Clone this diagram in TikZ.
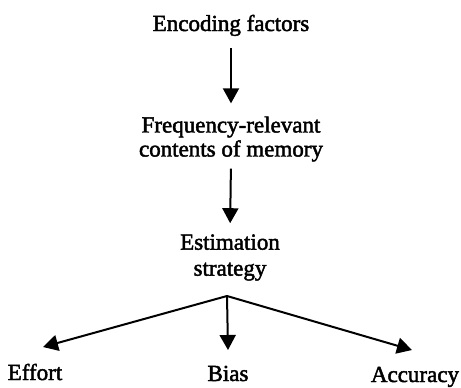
\documentclass[tikz,border=0pt]{standalone}
\usepackage{fontspec}
\setmainfont{Liberation Serif}
\newfontfamily\lblfont[FakeBold=2]{Liberation Serif}
\usetikzlibrary{arrows.meta}
\begin{document}
\begin{tikzpicture}[x=1pt,y=-1pt,
  lbl/.style={font=\lblfont\fontsize{23}{24}\selectfont, align=center, inner sep=0pt},
  conn/.style={line width=2pt, -{Triangle[length=15pt,width=16pt]}}]
\useasboundingbox (0,0) rectangle (461,388);
\node[lbl, anchor=base] (enc) at (231,31) {Encoding factors};
\node[lbl] (freq) at (231,139) {Frequency-relevant\\contents of memory};
\node[lbl, font=\lblfont\fontsize{23}{26}\selectfont] (est) at (230,257.5) {Estimation\\strategy};
\node[lbl, anchor=base] (effort) at (35,380) {Effort};
\node[lbl, anchor=base] (bias) at (228,381) {Bias};
\node[lbl, anchor=base] (acc) at (415,382) {Accuracy};
\coordinate (split) at (227,296);
\coordinate (tipL) at (43,347);
\coordinate (tipB) at (228,350);
\coordinate (tipR) at (412,350);
\draw[conn, shorten <=12pt, shorten >=13pt] (enc.south) -- (freq.north);
\draw[conn, shorten <=7pt, shorten >=11pt] (freq.south) -- (est.north);
\draw[conn] (split) -- (tipL);
\draw[conn] (split) -- (tipB);
\draw[conn] (split) -- (tipR);
\end{tikzpicture}
\end{document}
